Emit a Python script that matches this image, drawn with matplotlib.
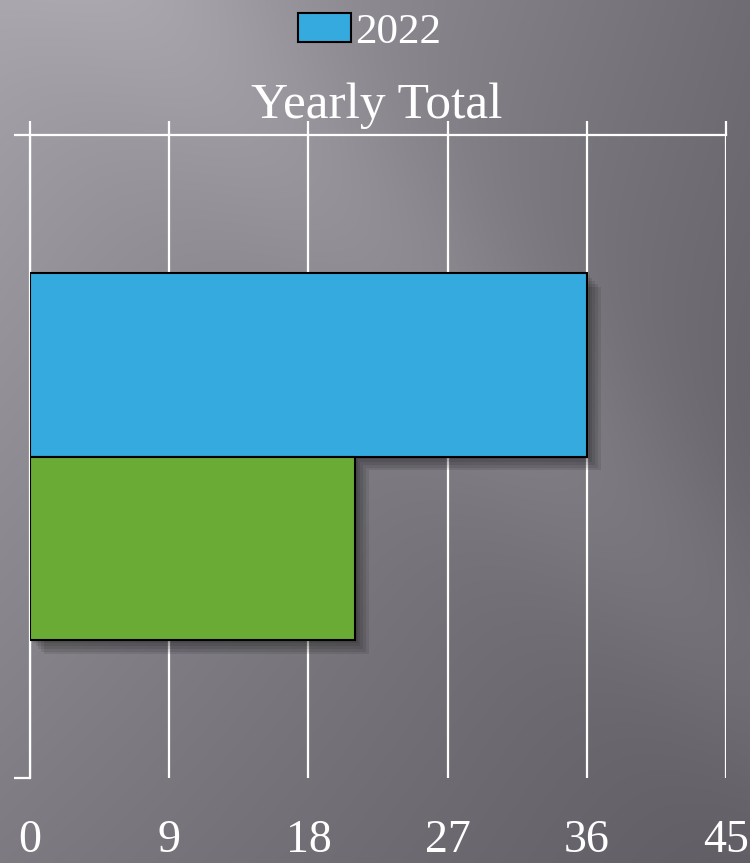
import numpy as np
import matplotlib
matplotlib.use("Agg")
import matplotlib.pyplot as plt
import matplotlib.patheffects as pe
from matplotlib.patches import Patch

# data
series = ["2022", "2021"]
values = [36, 21]
colors = ["#35aade", "#6aab35"]
xticks = [0, 9, 18, 27, 36, 45]

plt.rcParams['font.family'] = ['Liberation Serif', 'DejaVu Serif']

fig = plt.figure(figsize=(7.5, 8.63), dpi=100)

# background: grey gradient with a soft diagonal light streak
bg = fig.add_axes([0, 0, 1, 1], zorder=-10)
h, w = 863, 750
yy, xx = np.mgrid[0:h, 0:w]
u = xx / w
v = yy / h
base = (165 * (1 - u) * (1 - v) + 111 * u * (1 - v)
        + 125 * (1 - u) * v + 95 * u * v)
# distance to diagonal line through (150,0) and (750,650)
d = ((xx - 150) * 650 - yy * 600) / np.hypot(600, 650)
streak = 14 * np.exp(-(d / 110) ** 2)
val = base + streak
img = np.dstack([val, val - 2, val + 4]).clip(0, 255) / 255
bg.imshow(img, aspect='auto', extent=[0, 1, 0, 1])
bg.axis('off')

ax = fig.add_axes([0.04, 0.0985, 0.928, 0.745])
ax.patch.set_alpha(0)

bar_h = 0.286
offsets = [0.143, -0.143]
# soft shadow built from several faint offset copies
shadow = [pe.SimplePatchShadow(offset=(k, -k), shadow_rgbFace='black', alpha=0.09)
          for k in range(2, 11, 2)] + [pe.Normal()]
for name, val_, col, off in zip(series, values, colors, offsets):
    ax.barh(off, val_, height=bar_h, color=col, edgecolor='black', linewidth=1.5,
            path_effects=shadow, zorder=3)

ax.set_xlim(0, 45)
ax.set_ylim(-0.5, 0.5)
ax.set_xticks(xticks)
ax.set_xticklabels([str(t) for t in xticks])
ax.set_yticks([-0.5, 0.5])
ax.set_yticklabels([])

ax.grid(axis='x', color='white', linewidth=1.6, zorder=1)
ax.set_axisbelow(True)
for s in ['right', 'bottom']:
    ax.spines[s].set_visible(False)
for s in ['top', 'left']:
    ax.spines[s].set_color('white')
    ax.spines[s].set_linewidth(1.6)

ax.tick_params(axis='x', top=True, bottom=False, labeltop=False, labelbottom=True,
               direction='out', length=10, width=1.6, color='white',
               labelsize=33, labelcolor='white', pad=20)
ax.tick_params(axis='y', left=True, right=False, direction='out', length=11.5,
               width=1.6, color='white')

fig.text(377 / 750, 1 - 118 / 863, "Yearly Total", ha='center', va='baseline',
         fontsize=37, color='white')

handle = Patch(facecolor=colors[0], edgecolor='black', linewidth=1.5)
fig.legend([handle], [series[0]], loc='upper center', bbox_to_anchor=(0.493, 1.03),
           frameon=False, fontsize=31, labelcolor='white', handlelength=1.22,
           handleheight=0.67, handletextpad=0.1)

fig.savefig("out.png", dpi=100)
